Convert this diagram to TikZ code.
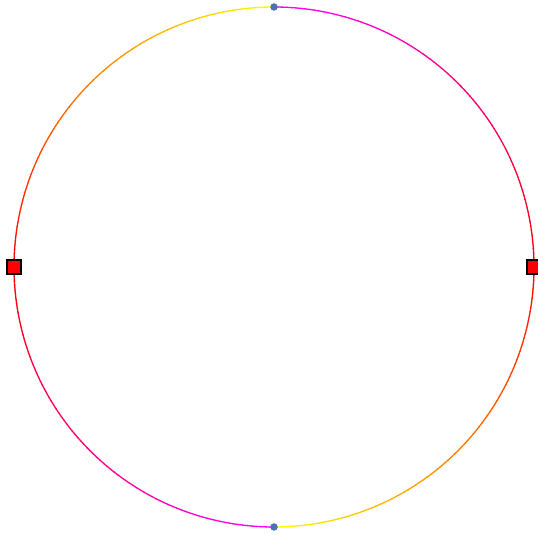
\documentclass[tikz,border=0pt]{standalone}
\usepackage{tikz}
\definecolor{dotblue}{RGB}{76,114,176}
\tikzset{
  endsq/.style={draw=black, fill=red, line width=1.3pt, minimum size=14pt, inner sep=0pt, rectangle},
  enddot/.style={fill=dotblue, circle, minimum size=7.5pt, inner sep=0pt, draw=none}
}
\begin{document}
\begin{tikzpicture}[x=1pt,y=1pt]
\useasboundingbox (0,0) rectangle (538,535);
\coordinate (O) at (274,268);
\foreach \i in {0,...,359}{
  \pgfmathsetmacro\a{\i}
  \pgfmathsetmacro\m{mod(\a+0.5,180)}
  \pgfmathsetmacro\g{(\m>=90)*(180-\m)/90}
  \pgfmathsetmacro\b{(\m<90)*\m/90}
  \definecolor{segc}{rgb}{1,\g,\b}
  \draw[segc, line width=1.3pt] (O) ++(\a:260) arc[start angle=\a, end angle=\a+1.15, radius=260];
}
\node[enddot] (top) at (274,528) {};
\node[enddot] (bot) at (274,8) {};
\node[endsq] (lft) at (14,268) {};
\node[endsq] (rgt) at (534,268) {};
\end{tikzpicture}
\end{document}
